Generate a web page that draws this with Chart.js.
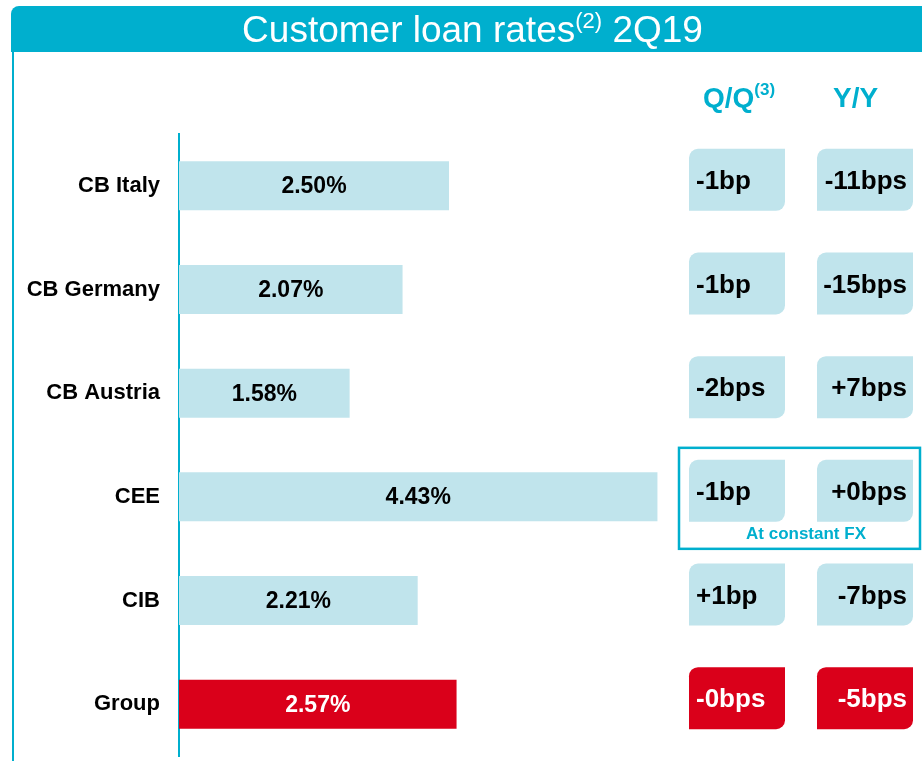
<!DOCTYPE html>
<html lang="en">
<head>
    <meta charset="UTF-8">
    <title>Customer loan rates 2Q19</title>
    <script src="https://cdn.jsdelivr.net/npm/chart.js"></script>
    <style>
        body { margin: 0; background: #fff; font-family: "Liberation Sans", Arial, sans-serif; }
        #page { position: relative; width: 922px; height: 761px; overflow: hidden; }
        #chart { position: absolute; left: 0; top: 0; }
        .title-bar {
            position: absolute; left: 11px; top: 6px; width: 911px; height: 46px;
            background: #00AFCE; border-top-left-radius: 8px;
            color: #fff; font-size: 37px; line-height: 48px; text-align: center;
            padding-left: 12px; box-sizing: border-box; white-space: nowrap;
        }
        .title-bar sup { font-size: 22px; line-height: 0; vertical-align: 14px; }
        .left-rule { position: absolute; left: 12px; top: 52px; width: 2px; height: 709px; background: #00AFCE; }
        .col-head {
            position: absolute; top: 82px; color: #00AFCE; font-weight: bold; font-size: 28px;
            white-space: nowrap;
        }
        .col-head sup { font-size: 17px; line-height: 0; vertical-align: 12px; }
    </style>
</head>
<body>
<div id="page">
    <canvas id="chart" width="922" height="761"></canvas>
    <div class="title-bar">Customer loan rates<sup>(2)</sup> 2Q19</div>
    <div class="left-rule"></div>
    <div class="col-head" style="left:703px">Q/Q<sup>(3)</sup></div>
    <div class="col-head" style="left:833px">Y/Y</div>
</div>

<script>
    // data
    const categories = ['CB Italy', 'CB Germany', 'CB Austria', 'CEE', 'CIB', 'Group'];
    const rates = [2.50, 2.07, 1.58, 4.43, 2.21, 2.57];
    const qqChanges = ['-1bp', '-1bp', '-2bps', '-1bp', '+1bp', '-0bps'];
    const yyChanges = ['-11bps', '-15bps', '+7bps', '+0bps', '-7bps', '-5bps'];
    const constantFxRow = 'CEE';
    const totalRow = 'Group';

    const TEAL = '#00AFCE';
    const LIGHT = '#C0E4EC';
    const RED = '#DA001A';
    const FONT = '"Liberation Sans", Arial, sans-serif';

    const barColors = categories.map(c => c === totalRow ? RED : LIGHT);

    // percent labels inside the bars
    const valueLabels = {
        id: 'valueLabels',
        afterDatasetsDraw(chart) {
            const ctx = chart.ctx;
            const meta = chart.getDatasetMeta(0);
            ctx.save();
            ctx.font = 'bold 23px ' + FONT;
            ctx.textAlign = 'center';
            ctx.textBaseline = 'middle';
            meta.data.forEach((bar, i) => {
                ctx.fillStyle = categories[i] === totalRow ? '#fff' : '#000';
                ctx.fillText(rates[i].toFixed(2) + '%', (bar.x + bar.base) / 2, bar.y + 1);
            });
            ctx.restore();
        }
    };

    // Q/Q and Y/Y boxes on the right, one row per category
    const changeBoxes = {
        id: 'changeBoxes',
        afterDraw(chart) {
            const ctx = chart.ctx;
            const yScale = chart.scales.y;
            const qx = chart.width - 233, yx = chart.width - 105, w = 96, h = 62;
            ctx.save();
            categories.forEach((cat, i) => {
                const yc = yScale.getPixelForValue(i);
                const top = yc - 37;
                const fill = cat === totalRow ? RED : LIGHT;
                const txt = cat === totalRow ? '#fff' : '#000';
                [qx, yx].forEach(x => {
                    ctx.fillStyle = fill;
                    ctx.beginPath();
                    ctx.roundRect(x, top, w, h, [9, 0, 9, 0]);
                    ctx.fill();
                });
                ctx.fillStyle = txt;
                ctx.font = 'bold 26px ' + FONT;
                ctx.textBaseline = 'middle';
                ctx.textAlign = 'left';
                ctx.fillText(qqChanges[i], qx + 7, top + h / 2 + 2);
                ctx.textAlign = 'right';
                ctx.fillText(yyChanges[i], yx + 90, top + h / 2 + 2);

                if (cat === constantFxRow) {
                    ctx.strokeStyle = TEAL;
                    ctx.lineWidth = 2.5;
                    ctx.strokeRect(qx - 10, top - 12, 241, 101);
                    ctx.fillStyle = TEAL;
                    ctx.font = 'bold 17px ' + FONT;
                    ctx.textAlign = 'center';
                    ctx.fillText('At constant FX', qx + 117, top + h + 12);
                }
            });
            ctx.restore();
        }
    };

    new Chart(document.getElementById('chart').getContext('2d'), {
        type: 'bar',
        data: {
            labels: categories,
            datasets: [{
                data: rates,
                backgroundColor: barColors,
                borderWidth: 0,
                barPercentage: 0.473,
                categoryPercentage: 1
            }]
        },
        options: {
            indexAxis: 'y',
            responsive: false,
            animation: false,
            layout: { padding: { top: 134, bottom: 5, left: 0, right: 41 } },
            plugins: { legend: { display: false }, tooltip: { enabled: false } },
            scales: {
                x: { min: 0, max: 6.5, display: false },
                y: {
                    grid: { display: false, drawTicks: false },
                    border: { display: true, color: TEAL, width: 2 },
                    ticks: { color: '#000', padding: 19, font: { family: FONT, size: 22, weight: 'bold' } },
                    afterFit(scale) {
                        scale.width = 179;
                        scale.paddingTop = 0;
                        scale.paddingBottom = 0;
                    }
                }
            }
        },
        plugins: [valueLabels, changeBoxes]
    });
</script>
</body>
</html>
